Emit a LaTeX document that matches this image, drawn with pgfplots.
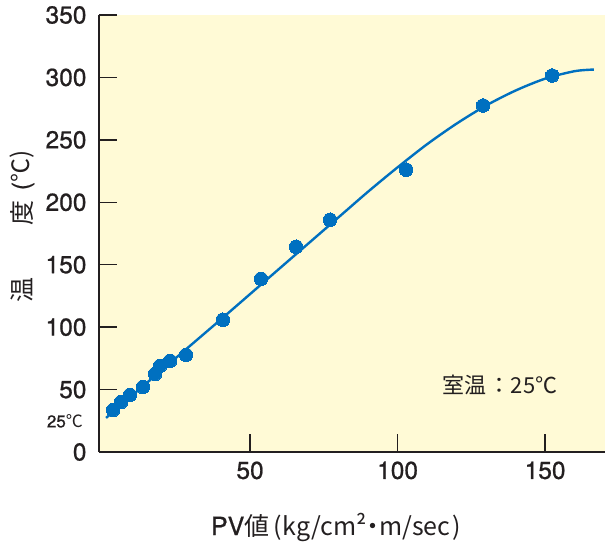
\documentclass[border=0pt]{standalone}
\usepackage{fontspec}
\setmainfont{Liberation Sans}
\newfontfamily\numfont[FakeBold=0.8]{TeX Gyre Heros}
\newfontfamily\cjk{Noto Sans CJK JP}
\usepackage{pgfplots}
\pgfplotsset{compat=1.18}
\definecolor{bg}{RGB}{255,250,214}
\definecolor{ptc}{RGB}{0,112,192}
\definecolor{ax}{RGB}{35,31,32}
\begin{document}
\begin{tikzpicture}
\useasboundingbox (-99pt,-95pt) rectangle (506pt,452pt);
\begin{axis}[
  at={(0pt,0pt)}, anchor=south west,
  scale only axis, width=506pt, height=437pt,
  xmin=-1.2, xmax=170.3, ymin=0, ymax=350,
  axis x line*=bottom, axis y line*=left,
  axis line style={-, line width=1.6pt, ax},
  axis background/.style={fill=bg},
  tick align=inside, major tick length=18pt,
  tick style={line width=1.3pt, ax},
  xtick={50,100,150}, ytick={0,50,...,350},
  ticklabel style={font=\numfont\fontsize{24.5}{30}\selectfont, text=ax},
  xticklabel style={yshift=-6pt},
  yticklabel style={xshift=-9pt},
  /pgf/number format/assume math mode=true,
  clip=false,
]
\addplot[ptc, line width=2.4pt, smooth, tension=0.5] coordinates {
  (1.2,27.3) (20,65.5) (40,106) (60,147) (80,188) (90,208.5) (100,228)
  (110,246.5) (120,263) (130,277.5) (140,289.5) (150,299) (160,305) (166.5,306.3)
};
\addplot[only marks, mark=*, mark size=6.8pt, mark options={fill=ptc, draw=ptc, line width=0pt}] coordinates {
  (3.6,33.7) (6.3,40.1) (9.3,45.7) (13.7,52.1) (17.8,62.5) (19.5,69.0)
  (22.9,73.0) (28.3,77.8) (40.8,105.9) (53.7,138.7) (65.6,164.4)
  (77.1,186.0) (102.9,226.1) (129.0,277.5) (152.4,301.5)
};
\end{axis}
\node[rotate=90, text=ax, font=\cjk\fontsize{25}{30}\selectfont] at (-77pt,162pt) {温};
\node[rotate=90, text=ax, font=\cjk\fontsize{25}{30}\selectfont] at (-77pt,239pt) {度};
\node[rotate=90, text=ax, font=\numfont\fontsize{24}{30}\selectfont] at (-77pt,282pt) {(\cjk{℃})};
\node[anchor=east, text=ax, font=\numfont\fontsize{17}{20}\selectfont, inner sep=0pt] at (-16pt,31pt) {25\cjk{℃}};
\node[text=ax, font=\numfont\fontsize{22}{26}\selectfont] at (401pt,67pt) {\cjk{室温\kern0.1em：}25\cjk{℃}};
\node[text=ax, font=\numfont\fontsize{25}{30}\selectfont] at (237pt,-75pt) {PV\cjk{値}\kern4pt(\kern1pt kg/cm²\cjk{\kern-0.25em・\kern-0.25em}m/sec\kern2pt)};
\end{tikzpicture}
\end{document}
